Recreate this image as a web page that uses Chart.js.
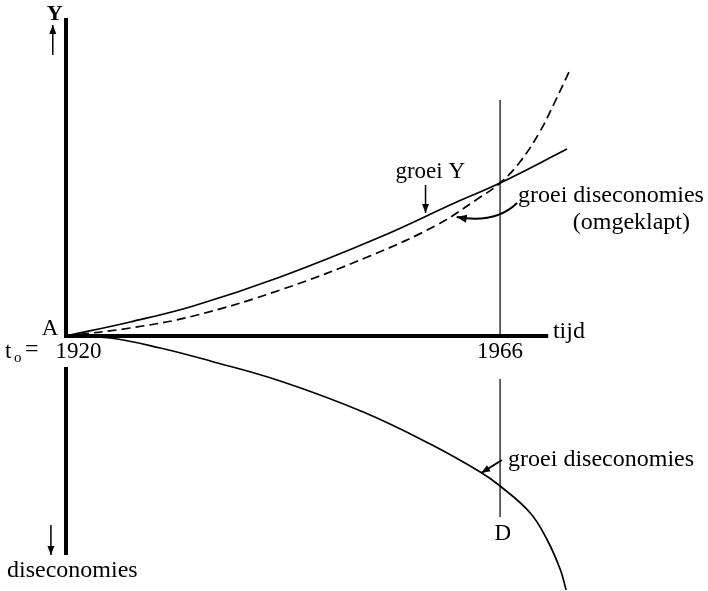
<!DOCTYPE html>
<html>
<head>
<meta charset="utf-8">
<script src="https://cdn.jsdelivr.net/npm/chart.js@4/dist/chart.umd.min.js"></script>
<style>
  html, body { margin: 0; padding: 0; background: #fff; }
  #wrap { width: 708px; height: 591px; position: relative; }
</style>
</head>
<body>
<div id="wrap"><canvas id="grafiek"></canvas></div>
<script>
// tijd in jaren, waarden in willekeurige eenheden (0 = tijd-as)
const groeiYJaar = [1920, 1926.8, 1933.5, 1942.7, 1953.3, 1961.4, 1966, 1973.1];
const groeiYWaarde = [0, 1.4, 3.0, 5.9, 9.9, 13.4, 15.3, 18.7];

const omgeklaptJaar = [1920, 1926.8, 1933.5, 1942.7, 1952.2, 1959.3, 1963.6, 1966, 1968.1, 1970.2, 1971.8, 1973.3];
const omgeklaptWaarde = [0, 0.8, 2.0, 4.6, 8.0, 11.1, 13.7, 15.3, 17.4, 20.4, 23.4, 26.4];

const disecJaar = [1920, 1924.7, 1930.0, 1935.3, 1942.7, 1951.5, 1958.6, 1963.9, 1966, 1969.2, 1971.0, 1972.4, 1973.0];
const disecWaarde = [0, -0.2, -1.2, -2.5, -4.5, -7.6, -10.8, -13.6, -15.0, -17.7, -20.4, -23.4, -25.4];

const startJaar = 1920;
const peilJaar = 1966;
const tijdAsEind = 1971.1;
const yAsBoven = 31.8;
const yAsOnder = -21.9;

function punten(xs, ys) {
    let uit = [];
    for (let i = 0; i < xs.length; i++) {
        uit.push({x: xs[i], y: ys[i]});
    }
    return uit;
}

function lijn(data, breedte, extra) {
    return Object.assign({
        data: data,
        borderColor: '#000',
        borderWidth: breedte,
        pointRadius: 0,
        fill: false,
        clip: false,
        borderCapStyle: 'butt'
    }, extra || {});
}

const datasets = [
    // assen
    lijn(punten([startJaar, startJaar], [yAsBoven, -0.2]), 4),
    lijn(punten([startJaar, startJaar], [-3.1, yAsOnder]), 4),
    lijn(punten([startJaar, tijdAsEind], [0, 0]), 4),
    // peillijn 1966
    lijn(punten([peilJaar, peilJaar], [23.6, -0.2]), 1.2),
    lijn(punten([peilJaar, peilJaar], [-4.3, -18.1]), 1.2),
    // curves
    lijn(punten(groeiYJaar, groeiYWaarde), 1.7, {tension: 0.4}),
    lijn(punten(omgeklaptJaar, omgeklaptWaarde), 1.7, {tension: 0.4, borderDash: [9, 5]}),
    lijn(punten(disecJaar, disecWaarde), 1.7, {tension: 0.4})
];

const FONT = '24px "Liberation Serif", "DejaVu Serif", serif';
const FONT_CIJFER = '23px "Liberation Serif", "DejaVu Serif", serif';

function pijlPunt(ctx, x1, y1, x2, y2, lengte, breedte) {
    let hoek = Math.atan2(y2 - y1, x2 - x1);
    ctx.beginPath();
    ctx.moveTo(x2, y2);
    ctx.lineTo(x2 - lengte * Math.cos(hoek) + breedte * Math.sin(hoek), y2 - lengte * Math.sin(hoek) - breedte * Math.cos(hoek));
    ctx.lineTo(x2 - lengte * Math.cos(hoek) - breedte * Math.sin(hoek), y2 - lengte * Math.sin(hoek) + breedte * Math.cos(hoek));
    ctx.closePath();
    ctx.fill();
}

function pijl(ctx, x1, y1, x2, y2) {
    ctx.beginPath();
    ctx.moveTo(x1, y1);
    ctx.lineTo(x2, y2);
    ctx.stroke();
    pijlPunt(ctx, x1, y1, x2, y2, 9, 3.5);
}

const teksten = {
    id: 'teksten',
    afterDatasetsDraw(chart) {
        const ctx = chart.ctx;
        const X = v => chart.scales.x.getPixelForValue(v);
        const Y = v => chart.scales.y.getPixelForValue(v);
        ctx.save();
        ctx.fillStyle = '#000';
        ctx.strokeStyle = '#000';
        ctx.lineWidth = 1.5;
        ctx.textBaseline = 'alphabetic';

        // Y-as bovenaan
        ctx.textAlign = 'center';
        ctx.font = 'bold 22px "Liberation Serif", serif';
        ctx.fillText('Y', X(1918.8), Y(31.6));
        pijl(ctx, X(1918.6), Y(28.1), X(1918.6), Y(31.1));

        // A en t0
        ctx.font = FONT_CIJFER;
        ctx.textAlign = 'right';
        ctx.fillText('A', X(1919.2), Y(0.1));
        ctx.textAlign = 'left';
        ctx.fillText('t', 5, Y(-2.2));
        ctx.font = '15px "Liberation Serif", serif';
        ctx.fillText('o', 14, Y(-2.6));
        ctx.font = '24px "Liberation Serif", serif';
        ctx.fillText('=', 25, Y(-2.0));
        ctx.font = FONT_CIJFER;
        ctx.fillText(String(startJaar), X(1918.9), Y(-2.2));

        // 1966 en tijd
        ctx.textAlign = 'center';
        ctx.fillText(String(peilJaar), X(peilJaar), Y(-2.2));
        ctx.font = FONT;
        ctx.textAlign = 'left';
        ctx.fillText('tijd', X(1971.6), Y(-0.2));

        // groei Y
        ctx.font = FONT_CIJFER;
        ctx.textAlign = 'center';
        ctx.fillText('groei Y', X(1958.6), Y(15.8));
        pijl(ctx, X(1958.1), Y(15.1), X(1958.1), Y(12.3));

        // groei diseconomies (omgeklapt)
        ctx.font = FONT;
        ctx.textAlign = 'left';
        ctx.fillText('groei diseconomies', X(1967.9), Y(13.4));
        ctx.fillText('(omgeklapt)', X(1973.7), Y(10.7));
        let bx = X(1967.8), by = Y(13.3);
        let cx = X(1965.5), cy = Y(11.2);
        let ex = X(1961.4), ey = Y(11.9);
        ctx.lineWidth = 2;
        ctx.beginPath();
        ctx.moveTo(bx, by);
        ctx.quadraticCurveTo(cx, cy, ex, ey);
        ctx.stroke();
        pijlPunt(ctx, cx, cy, ex, ey, 10, 4);
        ctx.lineWidth = 1.5;

        // groei diseconomies onder
        ctx.fillText('groei diseconomies', X(1966.85), Y(-13.0));
        ctx.lineWidth = 2;
        pijl(ctx, X(1966.2), Y(-12.4), X(1964.0), Y(-13.7));
        ctx.lineWidth = 1.5;

        ctx.font = FONT_CIJFER;
        ctx.textAlign = 'center';
        ctx.fillText('D', X(1966.3), Y(-20.4));

        // diseconomies onderaan
        pijl(ctx, X(1918.4), Y(-18.9), X(1918.4), Y(-21.9));
        ctx.font = FONT;
        ctx.textAlign = 'left';
        ctx.fillText('diseconomies', 7, Y(-24.1));
        ctx.restore();
    }
};

const grafiek = new Chart(document.querySelector('#grafiek'), {
    type: 'line',
    data: { datasets: datasets },
    options: {
        responsive: true,
        maintainAspectRatio: false,
        animation: false,
        events: [],
        layout: { padding: { left: 66, right: 123, top: 6, bottom: 1 } },
        plugins: { legend: { display: false }, tooltip: { enabled: false } },
        scales: {
            x: { type: 'linear', min: 1920, max: 1975, display: false },
            y: { type: 'linear', min: -25.4, max: 33, display: false }
        }
    },
    plugins: [teksten]
});
</script>
</body>
</html>
